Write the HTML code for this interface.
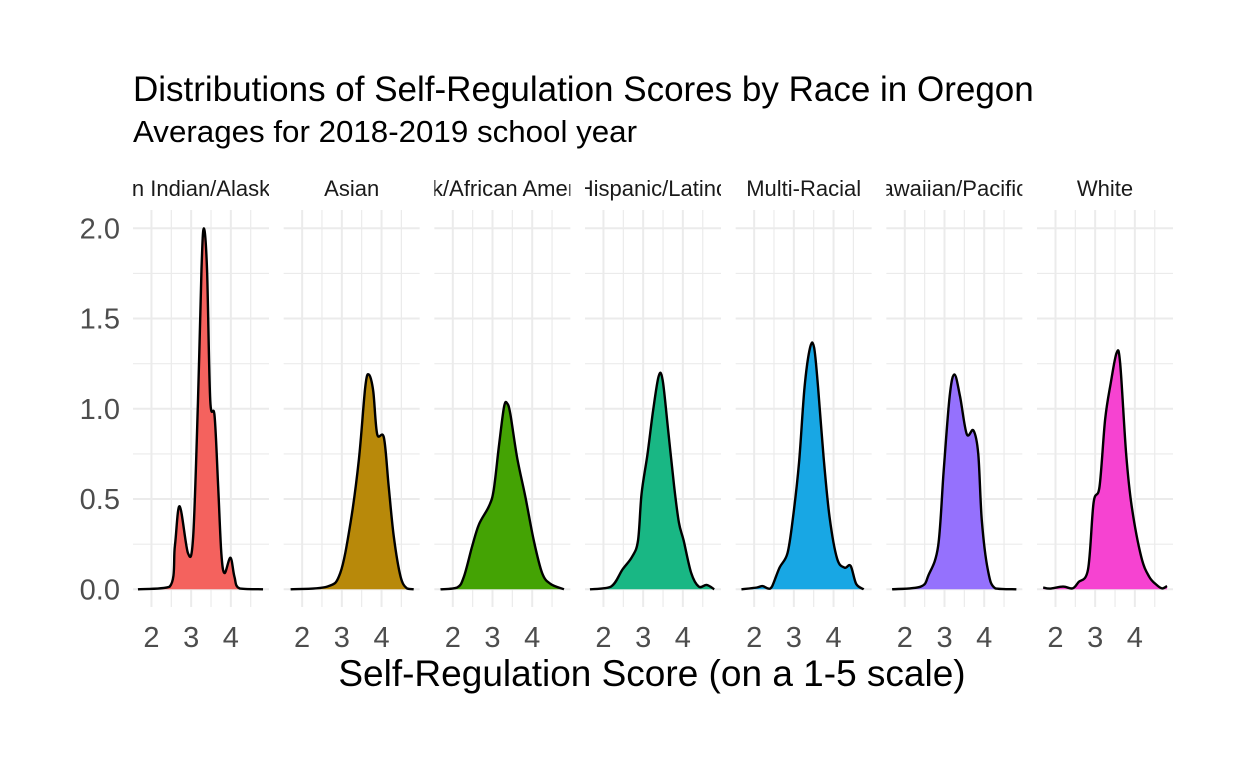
<!DOCTYPE html>
<html><head><meta charset="utf-8"><style>
body{margin:0;background:#fff;font-family:"Liberation Sans",Arial,sans-serif}
svg text{font-family:"Liberation Sans",Arial,sans-serif}
</style></head><body>
<svg id="chart" width="1248" height="768" xmlns="http://www.w3.org/2000/svg">
<rect width="1248" height="768" fill="#fff"/>
<text x="133" y="101" font-size="35" fill="#000">Distributions of Self-Regulation Scores by Race in Oregon</text>
<text x="133" y="142" font-size="31" fill="#000" textLength="504" lengthAdjust="spacingAndGlyphs">Averages for 2018-2019 school year</text>
<text x="652" y="686" font-size="37" text-anchor="middle" fill="#000">Self-Regulation Score (on a 1-5 scale)</text>
<g id="panels"></g>
</svg>
<script>
const groups = ["American Indian/Alaska Native","Asian","Black/African American","Hispanic/Latino","Multi-Racial","Native Hawaiian/Pacific Islander","White"];
const fillColors = ["#f4625e","#b8890a","#44a304","#19b784","#18a7e4","#9571fd","#f643d1"];
const yTicks = [0,0.5,1.0,1.5,2.0];
const yTickLabels = ["0.0","0.5","1.0","1.5","2.0"];
const xTicks = [2,3,4];
const xs0 = [1.66,2.46,2.59,2.71,2.92,3.05,3.17,3.26,3.32,3.40,3.48,3.59,3.68,3.76,3.84,3.99,4.09,4.22,4.81];
const ys0 = [0,0.015,0.24,0.46,0.2,0.29,1.03,1.77,2.0,1.77,1.05,0.96,0.57,0.2,0.09,0.175,0.07,0.005,0];
const xs1 = [1.71,2.63,2.96,3.22,3.43,3.59,3.68,3.79,3.89,4.06,4.18,4.31,4.48,4.64,4.81];
const ys1 = [0,0.015,0.09,0.37,0.72,1.12,1.19,1.10,0.86,0.84,0.57,0.29,0.07,0.005,0];
const xs2 = [1.69,2.11,2.28,2.49,2.66,2.91,3.03,3.16,3.29,3.37,3.45,3.62,3.83,4.04,4.25,4.46,4.80];
const ys2 = [0,0.01,0.07,0.24,0.36,0.46,0.55,0.79,1.01,1.03,0.97,0.73,0.51,0.27,0.09,0.03,0];
const xs3 = [1.66,2.19,2.48,2.72,2.87,2.96,3.11,3.25,3.39,3.49,3.63,3.78,3.90,4.02,4.21,4.40,4.60,4.79];
const ys3 = [0,0.015,0.11,0.18,0.27,0.53,0.75,0.99,1.18,1.16,0.88,0.57,0.37,0.27,0.09,0.015,0.024,0];
const xs4 = [1.68,2.07,2.21,2.36,2.45,2.64,2.84,2.98,3.13,3.27,3.41,3.51,3.61,3.75,3.90,4.09,4.28,4.43,4.57,4.76];
const ys4 = [0,0.01,0.018,0.004,0.015,0.12,0.2,0.4,0.70,1.12,1.34,1.34,1.12,0.73,0.40,0.17,0.12,0.13,0.03,0];
const xs5 = [1.68,2.40,2.60,2.84,2.98,3.13,3.25,3.39,3.56,3.73,3.85,3.94,4.09,4.28,4.81];
const ys5 = [0,0.015,0.08,0.24,0.66,1.07,1.19,1.07,0.86,0.88,0.75,0.38,0.11,0.005,0];
const xs6 = [1.69,1.86,2.19,2.43,2.58,2.82,2.96,3.11,3.25,3.39,3.54,3.63,3.78,3.92,4.16,4.36,4.55,4.69,4.81];
const ys6 = [0.01,0.004,0.015,0.005,0.04,0.11,0.48,0.57,0.94,1.14,1.31,1.25,0.75,0.46,0.18,0.07,0.024,0.005,0.018];
const seriesX = [xs0,xs1,xs2,xs3,xs4,xs5,xs6];
const seriesY = [ys0,ys1,ys2,ys3,ys4,ys5,ys6];

const NS="http://www.w3.org/2000/svg";
const panelLeft0=133, panelStep=150.67, panelW=136, xMin=1.535, pxPerX=39.7;
const y0=589.3, pxPerY=180.5, panelTop=210, panelBottom=607;
function sx(i,v){return panelLeft0+i*panelStep+(v-xMin)*pxPerX;}
function sy(v){return y0-v*pxPerY;}
function mk(tag,attrs,parent){const e=document.createElementNS(NS,tag);for(const k in attrs)e.setAttribute(k,attrs[k]);parent.appendChild(e);return e;}
function smooth(pts){
  let d="M"+pts[0][0].toFixed(2)+","+pts[0][1].toFixed(2);
  for(let i=0;i<pts.length-1;i++){
    const p0=pts[Math.max(0,i-1)],p1=pts[i],p2=pts[i+1],p3=pts[Math.min(pts.length-1,i+2)];
    let c1y=p1[1]+(p2[1]-p0[1])/6, c2y=p2[1]-(p3[1]-p1[1])/6;
    c1y=Math.min(c1y,y0); c2y=Math.min(c2y,y0);
    d+=" C"+(p1[0]+(p2[0]-p0[0])/6).toFixed(2)+","+c1y.toFixed(2)+" "+(p2[0]-(p3[0]-p1[0])/6).toFixed(2)+","+c2y.toFixed(2)+" "+p2[0].toFixed(2)+","+p2[1].toFixed(2);
  }
  return d;
}
const root=document.getElementById("panels");
yTicks.forEach((t,k)=>{
  const tl=mk("text",{x:120,y:sy(t)+10,"font-size":29,"text-anchor":"end",fill:"#4d4d4d"},root);
  
  
  tl.textContent=yTickLabels[k];
});
groups.forEach((g,i)=>{
  const left=panelLeft0+i*panelStep;
  const pg=mk("g",{},root);
  
  
  const clipId="clip"+i;
  const cp=mk("clipPath",{id:clipId},pg);
  mk("rect",{x:left,y:160,width:panelW,height:45},cp);
  for(let v=0;v<=2.01;v+=0.25){
    const major=Math.abs(v*2-Math.round(v*2))<1e-6;
    mk("line",{x1:left,x2:left+panelW,y1:sy(v),y2:sy(v),stroke:"#ebebeb","stroke-width":major?2:1.2},pg);
  }
  for(let v=2;v<=4.51;v+=0.5){
    const major=Math.abs(v-Math.round(v))<1e-6;
    mk("line",{x1:sx(i,v),x2:sx(i,v),y1:panelTop,y2:panelBottom,stroke:"#ebebeb","stroke-width":major?2:1.2},pg);
  }
  const strip=mk("text",{x:left+panelW/2,y:196,"font-size":22,"text-anchor":"middle",fill:"#1a1a1a","clip-path":"url(#"+clipId+")"},pg);
  
  
  strip.textContent=g;
  const pts=seriesX[i].map((x,k)=>[sx(i,x),sy(seriesY[i][k])]);
  const d=smooth(pts);
  const area=mk("path",{d:d+" L"+pts[pts.length-1][0]+","+y0+" L"+pts[0][0]+","+y0+" Z",fill:fillColors[i],stroke:"none"},pg);
  
  
  const line=mk("path",{d:d,fill:"none",stroke:"#000","stroke-width":2.4,"stroke-linejoin":"round"},pg);
  
  
  xTicks.forEach(t=>{
    const xt=mk("text",{x:sx(i,t),y:647,"font-size":29,"text-anchor":"middle",fill:"#4d4d4d"},pg);
    
    
    xt.textContent=t;
  });
});
</script>
</body></html>
